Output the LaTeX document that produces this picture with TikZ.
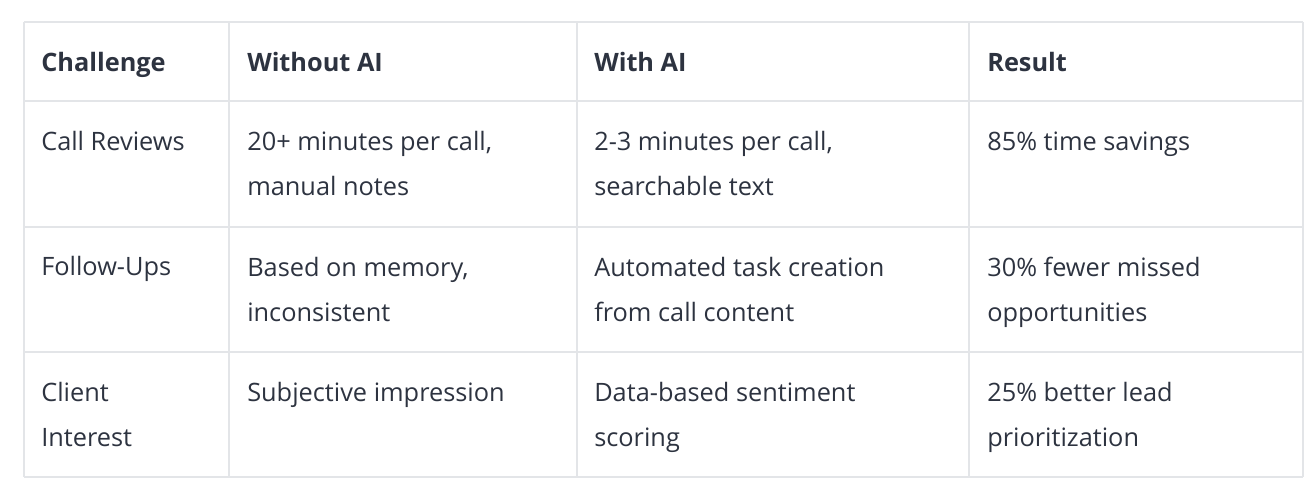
\documentclass[tikz,border=0pt]{standalone}
\usepackage{fontspec}
\setmainfont{Open Sans}
\definecolor{txt}{HTML}{2D3340}
\definecolor{grid}{HTML}{E3E5E8}
\begin{document}
\begin{tikzpicture}[x=0.75pt,y=-0.75pt,
  cell/.style={anchor=base west,inner sep=0pt,text=txt,font=\fontsize{19}{33.75}\selectfont,align=left},
  head/.style={cell,font=\fontsize{19}{33.75}\selectfont\bfseries},
  rule/.style={draw=grid,line width=1pt}]
\useasboundingbox (0,0) rectangle (1316,502);
\foreach \y in {22,101,227,352,477} \draw[rule] (24,\y) -- (1303,\y);
\foreach \x in {24,229,577,969,1303} \draw[rule] (\x,22) -- (\x,477);
\node[head] (h1) at (41,72) {Challenge};
\node[head] (h2) at (247,72) {Without AI};
\node[head] (h3) at (594,72) {With AI};
\node[head] (h4) at (987,72) {Result};
\node[cell] (a1) at (41,151) {Call Reviews};
\node[cell] (a2) at (247,196) {20+ minutes per call,\\manual notes};
\node[cell] (a3) at (594,196) {2-3 minutes per call,\\searchable text};
\node[cell] (a4) at (987,151) {85\% time savings};
\node[cell] (b1) at (41,276) {Follow-Ups};
\node[cell] (b2) at (247,321) {Based on memory,\\inconsistent};
\node[cell] (b3) at (594,321) {Automated task creation\\from call content};
\node[cell] (b4) at (987,321) {30\% fewer missed\\opportunities};
\node[cell] (c1) at (41,446) {Client\\Interest};
\node[cell] (c2) at (247,401) {Subjective impression};
\node[cell] (c3) at (594,446) {Data-based sentiment\\scoring};
\node[cell] (c4) at (987,446) {25\% better lead\\prioritization};
\end{tikzpicture}
\end{document}
